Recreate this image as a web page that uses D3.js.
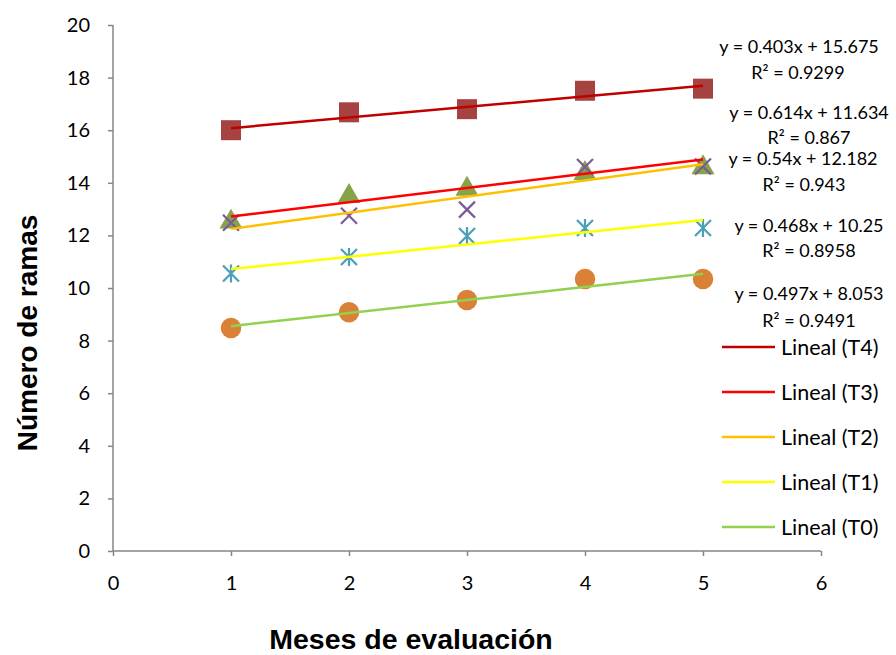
<!DOCTYPE html>
<html><head><meta charset="utf-8">
<script src="https://cdn.jsdelivr.net/npm/d3@7"></script>
<style>body{margin:0;background:#fff}svg{display:block}</style>
</head><body>
<svg id="c" width="896" height="655"></svg>
<script>
const months = [1, 2, 3, 4, 5];
const seriesNames = ["T4", "T3", "T2", "T1", "T0"];
const valuesT4 = [16.0, 16.68, 16.8, 17.5, 17.58];
const valuesT3 = [12.55, 13.52, 13.8, 14.4, 14.62];
const valuesT2 = [12.48, 12.75, 12.98, 14.6, 14.62];
const valuesT1 = [10.55, 11.18, 11.98, 12.28, 12.28];
const valuesT0 = [8.48, 9.08, 9.54, 10.34, 10.34];
const slopes = [0.403, 0.54, 0.614, 0.468, 0.497];
const intercepts = [15.675, 12.182, 11.634, 10.25, 8.053];
const r2 = ["0.9299", "0.943", "0.867", "0.8958", "0.9491"];
const xTicks = [0, 1, 2, 3, 4, 5, 6];
const yTicks = [0, 2, 4, 6, 8, 10, 12, 14, 16, 18, 20];

const values = [valuesT4, valuesT3, valuesT2, valuesT1, valuesT0];
const lineColors = ["#C00000", "#FF0000", "#FFC000", "#FFFF00", "#92D050"];
const markerColors = ["#A64341", "#87A34A", "#7B5A9B", "#4B9FB8", "#DA8138"];
const markerTypes = ["square", "triangle", "x", "star", "circle"];

const svg = d3.select("#c");
const x = d3.scaleLinear().domain([0, 6]).range([113, 821]);
const y = d3.scaleLinear().domain([0, 20]).range([551, 25]);
const font = "Lato, 'Open Sans', sans-serif";
const axisColor = "#868686";

// Y axis
const yAxis = svg.append("g").attr("transform", `translate(${x(0)},0)`)
  .call(d3.axisLeft(y).tickValues(yTicks).tickSize(5).tickPadding(18).tickFormat(d3.format("d")));
// X axis
const xAxis = svg.append("g").attr("transform", `translate(0,${y(0)})`)
  .call(d3.axisBottom(x).tickValues(xTicks).tickSize(5).tickPadding(20).tickFormat(d3.format("d")));
[yAxis, xAxis].forEach(a => {
  a.select(".domain").attr("stroke", axisColor).attr("stroke-width", 1.5);
  a.selectAll(".tick line").attr("stroke", axisColor).attr("stroke-width", 1.5);
  a.selectAll(".tick text").attr("fill", "#000").style("font-family", font).style("font-size", "20px");
});
xAxis.select(".domain").attr("d", `M${x(0)},0H${x(6)}`);
yAxis.select(".domain").attr("d", `M0,${y(0)}V${y(20)}`);

// Markers
const sym = {
  square: d3.symbol().type(d3.symbolSquare).size(400),
  triangle: d3.symbol().type(d3.symbolTriangle).size(230),
  circle: d3.symbol().type(d3.symbolCircle).size(330)
};
values.forEach((vals, i) => {
  const g = svg.append("g");
  const t = markerTypes[i];
  months.forEach((m, j) => {
    const cx = x(m), cy = y(vals[j]);
    if (sym[t]) {
      g.append("path").attr("d", sym[t]()).attr("transform", `translate(${cx},${cy + (t === "triangle" ? 1 : 0)})`)
        .attr("fill", markerColors[i]);
    } else if (t === "x") {
      const r = 8;
      g.append("path").attr("d", `M${cx - r},${cy - r}L${cx + r},${cy + r}M${cx - r},${cy + r}L${cx + r},${cy - r}`)
        .attr("stroke", markerColors[i]).attr("stroke-width", 2.2).attr("fill", "none");
    } else if (t === "star") {
      const r = 8;
      g.append("path").attr("d", `M${cx - r},${cy - r}L${cx + r},${cy + r}M${cx - r},${cy + r}L${cx + r},${cy - r}M${cx},${cy - r - 1}L${cx},${cy + r + 1}`)
        .attr("stroke", markerColors[i]).attr("stroke-width", 2.2).attr("fill", "none");
    }
  });
});

// Trendlines
const line = d3.line().x(d => x(d[0])).y(d => y(d[1]));
slopes.forEach((s, i) => {
  const xs = [d3.min(months), d3.max(months)];
  svg.append("path").attr("d", line(xs.map(v => [v, s * v + intercepts[i]])))
    .attr("stroke", lineColors[i]).attr("stroke-width", 2.5).attr("fill", "none");
});

// Equation labels (T4, T3, T2, T1, T0 order)
const eqPos = [[799, 46, 798, 72], [803, 158, 804, 184], [809, 112, 809, 137], [809, 225, 809, 250], [809, 293, 809, 320]];
slopes.forEach((s, i) => {
  const p = eqPos[i];
  svg.append("text").attr("x", p[0]).attr("y", p[1]).attr("text-anchor", "middle").attr("dominant-baseline", "central")
    .style("font-family", font).style("font-size", "18px").text(`y = ${s}x + ${intercepts[i]}`);
  svg.append("text").attr("x", p[2]).attr("y", p[3]).attr("text-anchor", "middle").attr("dominant-baseline", "central")
    .style("font-family", font).style("font-size", "18px").text(`R² = ${r2[i]}`);
});

// Legend
seriesNames.forEach((n, i) => {
  const ly = 347 + i * 45;
  svg.append("line").attr("x1", 722).attr("x2", 775).attr("y1", ly).attr("y2", ly)
    .attr("stroke", lineColors[i]).attr("stroke-width", 2.5);
  svg.append("text").attr("x", 781).attr("y", ly).attr("dominant-baseline", "central")
    .style("font-family", font).style("font-size", "21.5px").text(`Lineal (${n})`);
});

// Axis titles
svg.append("text").attr("x", 411).attr("y", 639).attr("text-anchor", "middle").attr("dominant-baseline", "central")
  .style("font-family", "'Liberation Sans', Arial, sans-serif").style("font-weight", "bold").style("font-size", "28.5px")
  .text("Meses de evaluación");
svg.append("text").attr("transform", "translate(27,333) rotate(-90)").attr("text-anchor", "middle").attr("dominant-baseline", "central")
  .style("font-family", "'Liberation Sans', Arial, sans-serif").style("font-weight", "bold").style("font-size", "28px")
  .text("Número de ramas");
</script>
</body></html>
